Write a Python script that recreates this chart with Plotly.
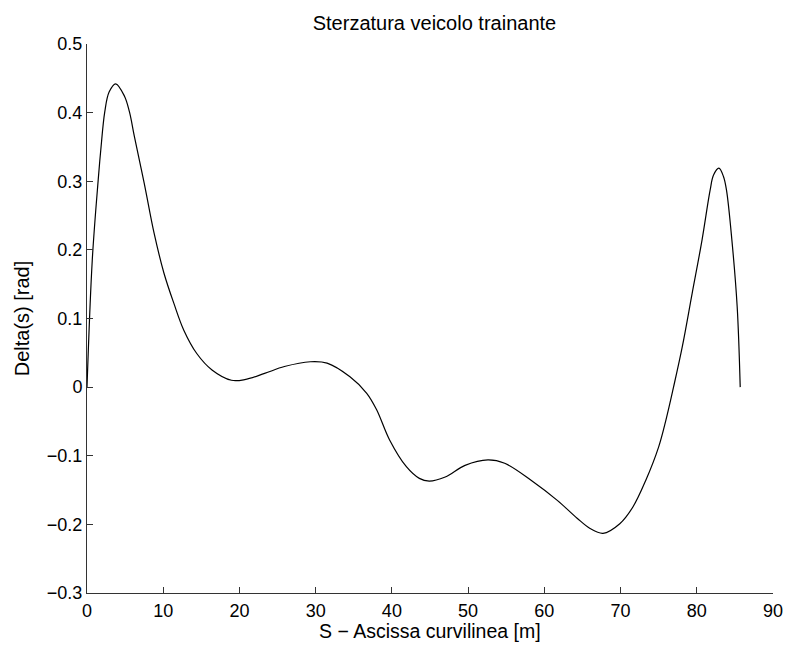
import plotly.graph_objects as go

# Curvilinear abscissa [m] and steering angle of the towing vehicle [rad]
s_m = [0, 0.69, 1.47, 1.81, 2.33, 2.9, 3.76, 4.92, 5.57, 6.22, 7.51, 8.81, 10.1,
       11.4, 12.7, 14.4, 16.4, 18.95, 20.7, 23.3, 25.9, 29.3, 31.5, 34.5, 36.7,
       38.0, 39.7, 41.9, 43.6, 44.9, 47.0, 49.6, 52.6, 54.8, 58.3, 61.7, 64.3,
       66.0, 67.7, 69.9, 71.6, 73.3, 75.0, 75.95, 76.95, 78.1, 79.4, 80.7, 81.75,
       82.2, 82.9, 83.5, 83.9, 84.6, 85.3, 85.7]
delta_rad = [0, 0.185, 0.302, 0.346, 0.401, 0.430, 0.442, 0.424, 0.401, 0.365,
             0.297, 0.224, 0.166, 0.122, 0.083, 0.049, 0.025, 0.010, 0.011, 0.020,
             0.030, 0.037, 0.035, 0.015, -0.009, -0.033, -0.077, -0.116, -0.133,
             -0.137, -0.131, -0.114, -0.106, -0.111, -0.136, -0.165, -0.191, -0.206,
             -0.213, -0.199, -0.175, -0.136, -0.087, -0.048, 0.0, 0.059, 0.137,
             0.215, 0.287, 0.309, 0.319, 0.307, 0.287, 0.215, 0.117, 0.0]

x_ticks = [0, 10, 20, 30, 40, 50, 60, 70, 80, 90]
y_ticks = [-0.3, -0.2, -0.1, 0, 0.1, 0.2, 0.3, 0.4, 0.5]
y_tick_text = ["\u22120.3", "\u22120.2", "\u22120.1", "0", "0.1", "0.2", "0.3", "0.4", "0.5"]

font_family = "Liberation Sans, Arial, Helvetica, sans-serif"

fig = go.Figure()
fig.add_trace(go.Scatter(
    x=s_m, y=delta_rad, mode="lines",
    line=dict(color="black", width=1.2, shape="spline", smoothing=1.0),
    showlegend=False, hoverinfo="skip",
))

axis_common = dict(
    showgrid=False, zeroline=False, showline=True, linecolor="#333333",
    linewidth=1, ticks="inside", ticklen=6, tickwidth=1, tickcolor="#333333",
    tickfont=dict(family=font_family, size=18, color="black"),
    mirror=False,
)

fig.update_layout(
    width=795, height=647,
    margin=dict(l=87, r=13, t=44, b=54),
    paper_bgcolor="white", plot_bgcolor="white",
    title=dict(text="Sterzatura veicolo trainante", x=0.5465, xanchor="center",
               y=0.964, yanchor="middle",
               font=dict(family=font_family, size=20, color="black")),
    xaxis=dict(range=[0, 90], tickvals=x_ticks, ticklabelstandoff=1, **axis_common),
    yaxis=dict(range=[-0.3, 0.5], tickvals=y_ticks, ticktext=y_tick_text,
               ticklabelstandoff=0,
               title=dict(text="Delta(s) [rad]", standoff=11,
                          font=dict(family=font_family, size=20, color="black")),
               **axis_common),
    annotations=[dict(
        text="S \u2212 Ascissa curvilinea [m]", xref="paper", yref="paper",
        x=0.5, y=-0.07, xanchor="center", yanchor="middle", showarrow=False,
        font=dict(family=font_family, size=19.5, color="black"),
    )],
)

fig.write_html("out.html")
